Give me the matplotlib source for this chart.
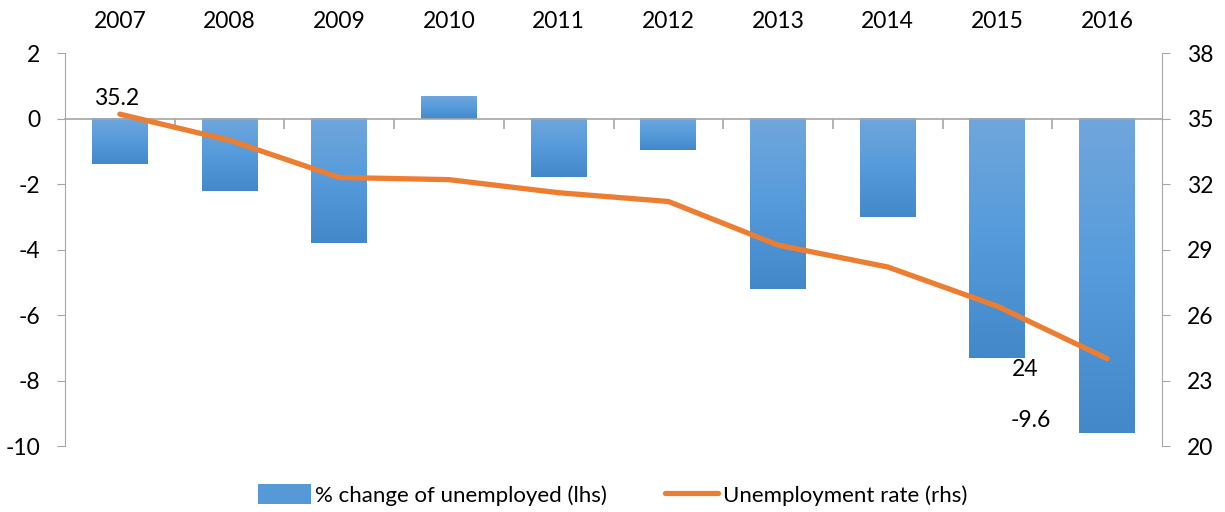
import matplotlib
matplotlib.use("Agg")
import matplotlib.pyplot as plt
import numpy as np
from matplotlib.colors import LinearSegmentedColormap
from matplotlib.patches import Patch
from matplotlib.lines import Line2D

plt.rcParams['font.family'] = ['Lato', 'DejaVu Sans']

years = ['2007', '2008', '2009', '2010', '2011', '2012', '2013', '2014', '2015', '2016']
pct_change = [-1.4, -2.2, -3.8, 0.7, -1.8, -0.95, -5.2, -3.0, -7.3, -9.6]
unemp_rate = [35.2, 34.0, 32.3, 32.2, 31.6, 31.2, 29.2, 28.2, 26.4, 24.0]

GRAY = '#A6A6A6'
ORANGE = '#ED7D31'
cmap = LinearSegmentedColormap.from_list('barg', ['#4388C8', '#559BDB', '#70A6DC'])

fig = plt.figure(figsize=(12.25, 5.12), dpi=100)
ax = fig.add_axes([65/1225, 1-446/512, (1162-65)/1225, (446-53)/512])
x = np.arange(len(years))

bars = ax.bar(x, pct_change, width=0.51, color='none', zorder=2)
grad = np.linspace(1, 0, 256).reshape(-1, 1)
for b in bars:
    x0 = b.get_x(); w = b.get_width()
    y0 = min(b.get_y(), b.get_y() + b.get_height())
    y1 = max(b.get_y(), b.get_y() + b.get_height())
    ax.imshow(grad, extent=[x0, x0 + w, y0, y1], aspect='auto', cmap=cmap,
              vmin=0, vmax=1, zorder=2, interpolation='bilinear')

ax.set_xlim(-0.5, len(years) - 0.5)
ax.set_ylim(-10, 2)
ax.set_yticks(np.arange(-10, 3, 2))
ax.set_yticklabels([str(v) for v in np.arange(-10, 3, 2)])
ax.tick_params(axis='y', length=6, color=GRAY, pad=12, labelsize=16.5)

for s in ['top', 'right']:
    ax.spines[s].set_visible(False)
ax.spines['left'].set_color(GRAY)
ax.spines['bottom'].set_position(('data', 0))
ax.spines['bottom'].set_color(GRAY)
ax.spines['bottom'].set_linewidth(1.2)
ax.spines['bottom'].set_zorder(3)
ax.set_xticks(np.arange(0.5, len(years) - 1, 1))
ax.set_xticklabels([])
ax.tick_params(axis='x', direction='out', length=7, color=GRAY, width=1.2)

top = ax.secondary_xaxis('top')
top.set_xticks(x)
top.set_xticklabels(years)
top.tick_params(length=0, pad=15, labelsize=16.5)
top.spines['top'].set_visible(False)

ax2 = ax.twinx()
ax2.plot(x, unemp_rate, color=ORANGE, lw=3.8, solid_capstyle='round',
         solid_joinstyle='round', zorder=4)
ax2.set_ylim(20, 38)
ax2.set_yticks(np.arange(20, 39, 3))
ax2.tick_params(axis='y', length=6, color=GRAY, pad=12, labelsize=16.5)
for s in ['top', 'left', 'bottom']:
    ax2.spines[s].set_visible(False)
ax2.spines['right'].set_color(GRAY)

ax2.annotate(f'{unemp_rate[0]:g}', (x[0], unemp_rate[0]), xytext=(-2, 4),
             textcoords='offset points', ha='center', va='bottom', fontsize=16.5)
ax2.annotate(f'{unemp_rate[-1]:g}', (x[-1], unemp_rate[-1]), xytext=(-59, -8),
             textcoords='offset points', ha='center', va='center', fontsize=16.5)
ax.annotate(f'{pct_change[-1]:g}', (x[-1], pct_change[-1]), xytext=(-55, 9),
            textcoords='offset points', ha='center', va='center', fontsize=16.5)

handles = [Patch(facecolor='#5599D8', edgecolor='none'),
           Line2D([0], [0], color=ORANGE, lw=3.8, solid_capstyle='round')]
fig.legend(handles, ['% change of unemployed (lhs)', 'Unemployment rate (rhs)'],
           loc='center', bbox_to_anchor=(0.5, 0.033), ncol=2, frameon=False,
           fontsize=16, handlelength=2.4, handleheight=1.0, handletextpad=0.2,
           columnspacing=2.6)

fig.savefig('out.png', dpi=100)
